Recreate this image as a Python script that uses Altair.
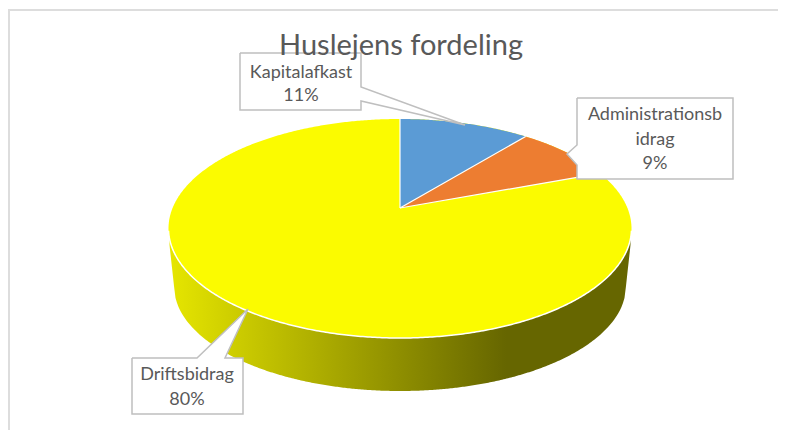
import numpy as np
import pandas as pd
import altair as alt

# --- data ---
categories = ["Kapitalafkast", "Administrationsbidrag", "Driftsbidrag"]
shares = [11, 9, 80]
slice_colors = ["#5B9BD5", "#ED7D31", "#FBFB00"]
label_lines = [["Kapitalafkast", "11%"], ["Administrationsb", "idrag", "9%"], ["Driftsbidrag", "80%"]]
title_text = "Huslejens fordeling"

# --- tilted-pie geometry (layout constants) ---
CX, CY, A, B = 400.0, 228.5, 231.5, 109.5      # top ellipse
AX, AY = 400.0, 208.0                          # apex seen in perspective
BCY, BA, BB = 286.0, 226.0, 105.0              # bottom rim of wall
FORESHORTEN = 0.83                             # angular squeeze at the far side
GREY = "#BFBFBF"
TEXT = "#595959"

W, H = 770, 422
xs = alt.Scale(domain=[8, 8 + W], nice=False, zero=False)
ys = alt.Scale(domain=[8 + H, 8], nice=False, zero=False)
X = alt.X("x:Q", scale=xs, axis=None)
Y = alt.Y("y:Q", scale=ys, axis=None)


def rim(x, cy=CY, a=A, b=B, sign=-1, cx=CX):
    return cy + sign * b * np.sqrt(np.clip(1 - ((x - cx) / a) ** 2, 0, 1))


def band(x, y, y2):
    return pd.DataFrame({"x": x, "y": y, "y2": y2})


def area_layer(df, fill, **kw):
    return alt.Chart(df).mark_area(fill=fill, clip=False, **kw).encode(
        x=X, y=Y, y2="y2:Q"
    )


def path_layer(pts, color=GREY, width=1.5):
    df = pd.DataFrame(pts, columns=["x", "y"])
    df["i"] = range(len(df))
    return alt.Chart(df).mark_line(color=color, strokeWidth=width, strokeJoin="miter").encode(
        x=X, y=Y, order="i:Q"
    )


# side wall
wx = np.concatenate([np.linspace(CX - A + 1, CX - BA, 6), np.linspace(CX - BA, CX + BA, 300),
                     np.linspace(CX + BA, CX + A - 1, 6)])
wall_low = np.where(
    np.abs(wx - CX) <= BA,
    rim(wx, BCY, BA, BB, 1),
    BCY - (np.abs(wx - CX) - BA) / (A - 1 - BA) * (BCY - 245),
)
wall = alt.Chart(band(wx, rim(wx, sign=1), wall_low)).mark_area(
    fill=alt.Gradient(
        gradient="linear", x1=0, x2=1, y1=0, y2=0,
        stops=[
            alt.GradientStop(color="#E6E600", offset=0),
            alt.GradientStop(color="#8E8E00", offset=0.5),
            alt.GradientStop(color="#666600", offset=0.73),
            alt.GradientStop(color="#666600", offset=1),
        ],
    )
).encode(x=X, y=Y, y2="y2:Q")

# top surface
tx = np.concatenate([[CX - A], CX - A * np.cos(np.linspace(0.005, np.pi - 0.005, 400)), [CX + A]])
top = area_layer(band(tx, rim(tx), rim(tx, sign=1)), slice_colors[2])
edge_x = CX - A * np.cos(np.linspace(0.02, np.pi - 0.02, 300))
edge = path_layer(list(zip(edge_x, rim(edge_x, sign=1))), "#FFFFFF", 1.5)

# slice boundaries from the shares
ang = np.radians(np.cumsum(shares) * 3.6 * FORESHORTEN)
ex = CX + A * np.sin(ang)
ey = CY - B * np.cos(ang)


def chord(x, x0, y0):
    return AY + (x - AX) / (x0 - AX) * (y0 - AY)


x1 = np.linspace(AX, ex[0], 80)
blue = area_layer(band(x1, rim(x1), chord(x1, ex[0], ey[0])), slice_colors[0])
x2 = np.linspace(AX, ex[1], 120)
up2 = np.where(x2 < ex[0], chord(x2, ex[0], ey[0]), rim(x2))
orange = area_layer(band(x2, up2, chord(x2, ex[1], ey[1])), slice_colors[1])
spoke0 = path_layer([(CX, rim(np.array([CX]))[0]), (AX, AY)], "#FFFFFF", 1.2)
spoke1 = path_layer([(AX, AY), (ex[0], ey[0])], "#FFFFFF", 1.2)
spoke2 = path_layer([(AX, AY), (ex[1], ey[1])], "#FFFFFF", 1.2)

# callout boxes
box_df = pd.DataFrame({
    "x": [240, 577, 132], "x2": [361, 733, 243],
    "y": [53, 98, 358], "y2": [110, 179, 414],
})
boxes = alt.Chart(box_df).mark_rect(fill="#FFFFFF").encode(x=X, x2="x2:Q", y=Y, y2="y2:Q")
p_a = band(np.array([361, 465.0]), np.array([87, 125.0]), np.array([101, 125.0]))
p_b = band(np.array([567, 577.0]), np.array([154, 145.0]), np.array([154, 165.0]))
p_c = band(np.array([197, 225, 248.0]), np.array([358, 331, 309.0]), np.array([358, 358, 309.0]))
pointers = [area_layer(p, "#FFFFFF") for p in (p_a, p_b, p_c)]
outlines = [
    path_layer([(240, 53), (361, 53), (361, 87), (465, 125), (361, 101), (361, 110), (240, 110), (240, 53)]),
    path_layer([(577, 98), (733, 98), (733, 179), (577, 179), (577, 165), (567, 154), (577, 145), (577, 98)]),
    path_layer([(132, 358), (197, 358), (248, 309), (225, 358), (243, 358), (243, 414), (132, 414), (132, 358)]),
]

# chart frame
frame = path_layer([(9, 430), (9, 10), (778, 10)], "#DDDDDD", 2)

# text
rows = []
centers = [(301, [73, 96]), (655, [115, 140, 164]), (187, [375, 400])]
for lines, (cx, yl) in zip(label_lines, centers):
    for s, yy in zip(lines, yl):
        rows.append({"x": cx, "y": yy, "t": s})
labels = alt.Chart(pd.DataFrame(rows)).mark_text(
    font="Lato", fontSize=18, color=TEXT, baseline="middle", align="center"
).encode(x=X, y=Y, text="t:N")
title = alt.Chart(pd.DataFrame([{"x": 401, "y": 46, "t": title_text}])).mark_text(
    font="Lato", fontSize=29, color=TEXT, baseline="middle", align="center"
).encode(x=X, y=Y, text="t:N")

chart = alt.layer(
    frame, wall, top, edge, blue, orange, spoke0, spoke1, spoke2, boxes, *pointers, *outlines, labels, title
).properties(width=W, height=H, padding=0, autosize=alt.AutoSizeParams(type="none")).configure_view(stroke=None)

chart.save("out.html", embed_options={"renderer": "svg", "actions": False})
